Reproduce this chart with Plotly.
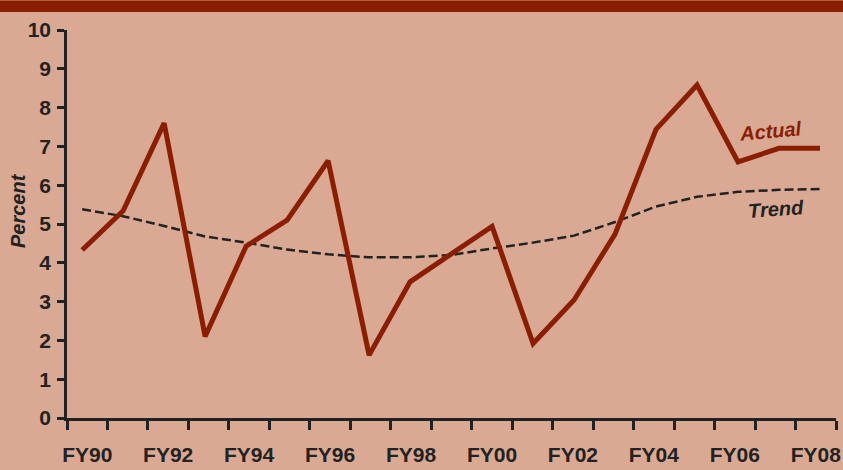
import numpy as np
import plotly.graph_objects as go

# Fiscal years FY90 .. FY08
years = ["FY90", "FY91", "FY92", "FY93", "FY94", "FY95", "FY96", "FY97", "FY98", "FY99",
         "FY00", "FY01", "FY02", "FY03", "FY04", "FY05", "FY06", "FY07", "FY08"]
actual = [4.33, 5.34, 7.6, 2.1, 4.43, 5.1, 6.63, 1.62, 3.51, 4.24,
          4.94, 1.92, 3.04, 4.74, 7.44, 8.58, 6.6, 6.95, 6.95]
trend = [5.38, 5.2, 4.95, 4.68, 4.52, 4.34, 4.22, 4.14, 4.14, 4.2,
         4.37, 4.52, 4.7, 5.05, 5.45, 5.7, 5.83, 5.88, 5.9]
y_ticks = list(range(0, 11))
label_years = years[::2]

BG = "#D9A994"
RED = "#8B1E00"
INK = "#222222"
FONT = "Liberation Sans, Arial, sans-serif"

xs = list(range(len(years)))
label_pos = [years.index(y) for y in label_years]
# data axis: series run close to both ends of the frame
xr = [-0.37, len(years) - 1 + 0.39]
# evenly spaced year dividers along the frame
boundaries = list(np.linspace(xr[0], xr[1], len(years) + 1))
# label axis: one slot per year
xr_labels = [-0.5, len(years) - 0.5]

fig = go.Figure()
fig.add_trace(go.Scatter(x=xs, y=trend, mode="lines",
                         line=dict(color=INK, width=2.5, dash="9px,4px"),
                         hoverinfo="skip", showlegend=False))
fig.add_trace(go.Scatter(x=xs, y=actual, mode="lines",
                         line=dict(color=RED, width=5),
                         showlegend=False))
# second x axis carries the year labels, centred on each year slot
fig.add_trace(go.Scatter(x=[xs[0]], y=[None], xaxis="x2", showlegend=False,
                         hoverinfo="skip"))

fig.update_layout(
    width=843, height=470,
    margin=dict(l=67, r=7, t=30, b=52, autoexpand=False),
    paper_bgcolor=BG, plot_bgcolor=BG,
    font=dict(family=FONT, color=INK),
    xaxis=dict(range=xr, tickmode="array", tickvals=boundaries,
               showticklabels=False, ticks="outside", ticklen=9,
               tickwidth=2.5, tickcolor=INK, showline=True, linecolor=INK,
               linewidth=2.5, showgrid=False, zeroline=False, automargin=False),
    xaxis2=dict(range=xr_labels, overlaying="x", anchor="y", side="bottom",
                tickmode="array", tickvals=label_pos, ticktext=label_years,
                ticks="outside", ticklen=18, tickcolor="rgba(0,0,0,0)",
                tickfont=dict(size=21, family=FONT, color=INK, weight="bold"),
                showline=False, showgrid=False, zeroline=False, automargin=False),
    yaxis=dict(range=[0, 10], tickmode="array", tickvals=y_ticks,
               ticks="outside", ticklen=7, tickwidth=2.5, tickcolor=INK,
               showline=True, linecolor=INK, linewidth=2.5,
               showgrid=False, zeroline=False, ticklabelstandoff=2, automargin=False,
               tickfont=dict(size=21, family=FONT, color=INK, weight="bold")),
    shapes=[
        # thin lighter rule above the banner
        dict(type="rect", xref="paper", yref="paper",
             x0=-0.2, x1=1.2, y0=1 + 29 / 388, y1=1 + 31 / 388,
             fillcolor="#B0603F", line=dict(width=0), layer="above"),
        # dark red banner across the top
        dict(type="rect", xref="paper", yref="paper",
             x0=-0.2, x1=1.2, y0=1 + 18 / 388, y1=1 + 29 / 388,
             fillcolor=RED, line=dict(width=0), layer="above"),
    ],
    annotations=[
        dict(text="Percent", xref="paper", yref="paper", x=-0.0637, y=0.5335,
             xanchor="center", yanchor="middle",
             textangle=-90, showarrow=False,
             font=dict(size=20, family=FONT, color=INK, weight="bold", style="italic")),
        dict(text="Actual", x=16.8, y=7.4, textangle=-5, showarrow=False,
             xanchor="center", yanchor="middle",
             font=dict(size=20, family=FONT, color=RED, weight="bold", style="italic")),
        dict(text="Trend", x=16.93, y=5.39, textangle=-4, showarrow=False,
             xanchor="center", yanchor="middle",
             font=dict(size=20, family=FONT, color=INK, weight="bold", style="italic")),
    ],
)

fig.write_html("out.html")
